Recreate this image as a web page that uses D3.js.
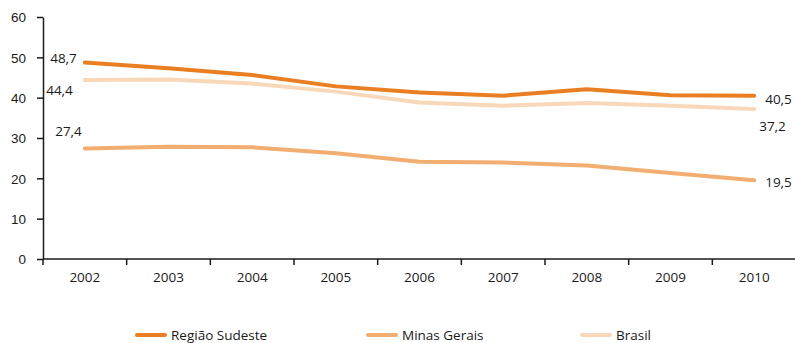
<!DOCTYPE html>
<html>
<head>
<meta charset="utf-8">
<script src="https://cdn.jsdelivr.net/npm/d3@7"></script>
<style>
  html, body { margin: 0; padding: 0; background: #fff; }
  svg { display: block; font-family: "Open Sans", "Noto Sans", sans-serif; }
  .axis text { font-size: 13.5px; fill: #1a1a1a; }
  .axis path, .axis line { stroke: #1a1a1a; stroke-width: 1.5px; }
  .val { font-size: 13.5px; fill: #1a1a1a; }
  .leg { font-size: 13.5px; fill: #1a1a1a; }
</style>
</head>
<body>
<svg id="chart" width="795" height="343"></svg>
<script>
const years = ["2002", "2003", "2004", "2005", "2006", "2007", "2008", "2009", "2010"];
const sudeste = [48.7, 47.3, 45.6, 42.8, 41.3, 40.5, 42.1, 40.6, 40.5];
const minas   = [27.4, 27.8, 27.7, 26.2, 24.1, 23.9, 23.2, 21.3, 19.5];
const brasil  = [44.4, 44.5, 43.5, 41.5, 38.8, 38.0, 38.7, 38.0, 37.2];
const yTicks = [0, 10, 20, 30, 40, 50, 60];

const seriesList = [
  { name: "Região Sudeste", values: sudeste, color: "#E97F22" },
  { name: "Minas Gerais",   values: minas,   color: "#F2AD70" },
  { name: "Brasil",         values: brasil,  color: "#F9D8BA" }
];

const svg = d3.select("#chart");
const plotL = 43, plotR = 796, plotT = 17, plotB = 259;

const x = d3.scaleBand().domain(years).range([plotL, plotR]).padding(0);
const y = d3.scaleLinear().domain([0, 60]).range([plotB, plotT]);

// y axis
svg.append("g").attr("class", "axis")
  .attr("transform", `translate(${plotL},0)`)
  .call(d3.axisLeft(y).tickValues(yTicks).tickSize(6).tickSizeOuter(0).tickPadding(11))
  .call(g => g.selectAll("text").attr("dy", "0.36em"));

// x axis with ticks at band edges
const xAxis = svg.append("g").attr("class", "axis")
  .attr("transform", `translate(0,${plotB})`);
xAxis.append("line").attr("x1", plotL).attr("x2", plotR).attr("y1", 0).attr("y2", 0);
xAxis.selectAll("line.tk").data(years).join("line").attr("class", "tk")
  .attr("x1", d => x(d)).attr("x2", d => x(d)).attr("y1", 0).attr("y2", 6);
xAxis.selectAll("text").data(years).join("text")
  .attr("x", d => x(d) + x.bandwidth() / 2).attr("y", 23)
  .attr("text-anchor", "middle").text(d => d);

// lines (Brasil underneath)
const line = d3.line()
  .x((d, i) => x(years[i]) + x.bandwidth() / 2)
  .y(d => y(d));

[seriesList[2], seriesList[1], seriesList[0]].forEach(s => {
  svg.append("path").datum(s.values)
    .attr("fill", "none").attr("stroke", s.color)
    .attr("stroke-width", 4).attr("stroke-linejoin", "round").attr("stroke-linecap", "round")
    .attr("d", line);
});

// value labels at first and last years
const fmt = v => d3.format(".1f")(v).replace(".", ",");
const cx = i => x(years[i]) + x.bandwidth() / 2;
const labels = [
  { v: sudeste[0], x: cx(0) - 8, y: y(sudeste[0]) + 0.5, a: "end" },
  { v: brasil[0],  x: cx(0) - 12, y: y(brasil[0]) + 15, a: "end" },
  { v: minas[0],   x: cx(0) - 3, y: y(minas[0]) - 12, a: "end" },
  { v: sudeste[8], x: cx(8) + 11, y: y(sudeste[8]) + 8, a: "start" },
  { v: brasil[8],  x: cx(8) + 5, y: y(brasil[8]) + 22, a: "start" },
  { v: minas[8],   x: cx(8) + 11, y: y(minas[8]) + 7, a: "start" }
];
svg.selectAll("text.val").data(labels).join("text").attr("class", "val")
  .attr("x", d => d.x).attr("y", d => d.y).attr("text-anchor", d => d.a)
  .text(d => fmt(d.v));

// legend
const legX = [137, 368, 582];
const leg = svg.selectAll("g.legitem").data(seriesList).join("g").attr("class", "legitem")
  .attr("transform", (d, i) => `translate(${legX[i]},335)`);
leg.append("line").attr("x1", 0).attr("x2", 28).attr("y1", 0).attr("y2", 0)
  .attr("stroke", d => d.color).attr("stroke-width", 4).attr("stroke-linecap", "round");
leg.append("text").attr("class", "leg").attr("x", 34).attr("y", 4.5).text(d => d.name);
</script>
</body>
</html>
